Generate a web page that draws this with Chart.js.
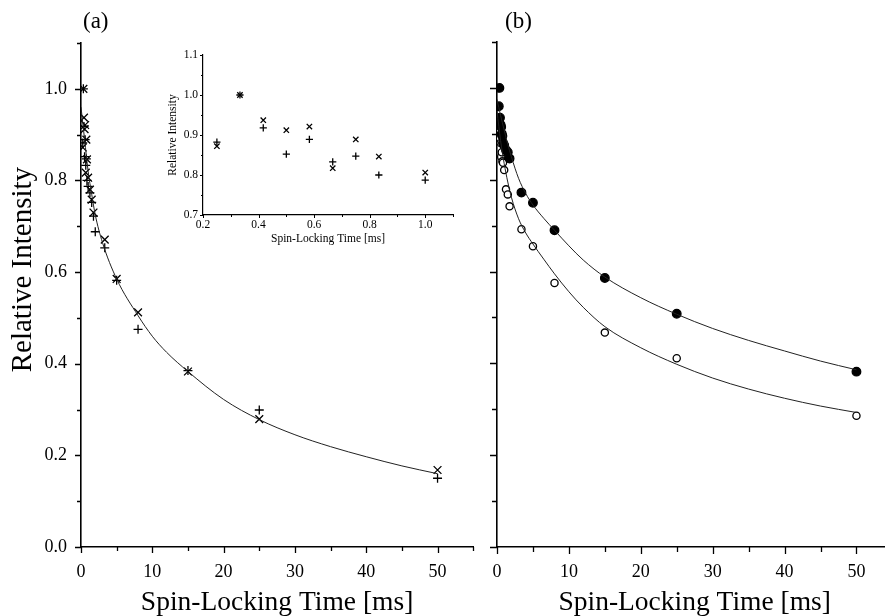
<!DOCTYPE html>
<html>
<head>
<meta charset="utf-8">
<script src="https://cdn.jsdelivr.net/npm/chart.js@4.4.1/dist/chart.umd.min.js"></script>
<style>
  html, body { margin: 0; padding: 0; background: #fff; overflow: hidden; }
  #wrap { position: relative; width: 885px; height: 616px; overflow: hidden; background: #fff; }
  canvas { position: absolute; }
  .panel { position: absolute; font-family: "Liberation Serif", serif; font-size: 23px; color: #000; }
</style>
</head>
<body>
<div id="wrap">
  <canvas id="chartA" width="480" height="616" style="left:0;top:0;"></canvas>
  <canvas id="chartB" width="428" height="616" style="left:470px;top:0;"></canvas>
  <canvas id="inset" width="310" height="206" style="left:150px;top:40px;"></canvas>
  <div class="panel" style="left:83px;top:8px;">(a)</div>
  <div class="panel" style="left:505px;top:8px;">(b)</div>
</div>
<script>
// panel (a): crosses (x) and pluses (+)
const timesX = [0.25, 0.333, 0.417, 0.5, 0.583, 0.667, 0.75, 0.833, 1.0, 1.25, 1.5, 1.75, 3.33, 5, 8, 15, 25, 50];
const valuesX = [0.872, 1.0, 0.937, 0.912, 0.921, 0.817, 0.889, 0.846, 0.806, 0.78, 0.758, 0.73, 0.671, 0.585, 0.512, 0.383, 0.279, 0.168];
const timesPlus = [0.25, 0.333, 0.417, 0.5, 0.583, 0.667, 0.75, 0.833, 1.0, 1.25, 1.5, 1.75, 2.0, 3.33, 5, 8, 15, 25, 50];
const valuesPlus = [0.882, 1.0, 0.918, 0.852, 0.889, 0.833, 0.847, 0.80, 0.787, 0.773, 0.752, 0.722, 0.688, 0.653, 0.582, 0.475, 0.385, 0.299, 0.150];
// fitted curve of panel (a)
const fitTimesA = [0, 0.5, 1, 1.5, 2, 3, 5, 8, 10, 12, 15, 20, 25, 30, 35, 40, 45, 50];
const fitValuesA = [0.96, 0.89, 0.82, 0.77, 0.725, 0.665, 0.585, 0.505, 0.46, 0.425, 0.383, 0.322, 0.278, 0.245, 0.219, 0.197, 0.177, 0.16];

// panel (b): filled and open circles
const timesB = [0.25, 0.333, 0.417, 0.5, 0.583, 0.667, 0.75, 0.833, 1.0, 1.25, 1.5, 1.75, 3.4, 5, 8, 15, 25, 50];
const valuesFilled = [0.96, 1.0, 0.935, 0.92, 0.915, 0.90, 0.895, 0.88, 0.875, 0.865, 0.86, 0.846, 0.772, 0.75, 0.69, 0.586, 0.508, 0.382];
const valuesOpen = [0.91, 0.925, 0.89, 0.88, 0.85, 0.86, 0.84, 0.837, 0.821, 0.779, 0.768, 0.742, 0.692, 0.655, 0.575, 0.467, 0.411, 0.286];
// fitted curves of panel (b)
const fitTimesB = [0, 0.5, 1, 1.5, 2, 3, 4, 5, 6.5, 8, 10, 12, 15, 20, 25, 30, 35, 40, 45, 50];
const fitFilled = [0.975, 0.94, 0.908, 0.877, 0.85, 0.803, 0.77, 0.745, 0.716, 0.69, 0.656, 0.625, 0.588, 0.543, 0.507, 0.476, 0.45, 0.427, 0.405, 0.386];
const fitOpen = [0.95, 0.885, 0.835, 0.795, 0.762, 0.715, 0.684, 0.66, 0.627, 0.595, 0.556, 0.522, 0.48, 0.434, 0.398, 0.368, 0.344, 0.324, 0.307, 0.293];

// tick values
const xMajor = [0, 10, 20, 30, 40, 50];
const xMinor = [5, 15, 25, 35, 45, 55];
const yMajor = [0, 0.2, 0.4, 0.6, 0.8, 1.0];
const yMinor = [0.1, 0.3, 0.5, 0.7, 0.9, 1.1];
const insetXMajor = [0.2, 0.4, 0.6, 0.8, 1.0];
const insetXMinor = [0.3, 0.5, 0.7, 0.9, 1.1];
const insetYMajor = [0.7, 0.8, 0.9, 1.0, 1.1];
const insetYMinor = [0.75, 0.85, 0.95, 1.05];

const serif = "'Liberation Serif', 'Times New Roman', serif";

function pts(xs, ys) {
  return xs.map((x, i) => ({ x: x, y: ys[i] }));
}

// draws outward tick marks (major and minor) with the chart's own scales
const tickMarks = {
  id: "tickMarks",
  afterDraw(chart, args, opts) {
    const ctx = chart.ctx;
    const xs = chart.scales.x, ys = chart.scales.y;
    const area = chart.chartArea;
    ctx.save();
    ctx.strokeStyle = "#000";
    ctx.lineWidth = opts.width || 1.3;
    ctx.beginPath();
    (opts.xMajor || []).forEach(v => { const p = Math.round(xs.getPixelForValue(v)) + 0.5; ctx.moveTo(p, area.bottom); ctx.lineTo(p, area.bottom + opts.major); });
    (opts.xMinor || []).forEach(v => { const p = Math.round(xs.getPixelForValue(v)) + 0.5; ctx.moveTo(p, area.bottom); ctx.lineTo(p, area.bottom + opts.minor); });
    (opts.yMajor || []).forEach(v => { const p = Math.round(ys.getPixelForValue(v)) + 0.5; ctx.moveTo(area.left, p); ctx.lineTo(area.left - opts.major, p); });
    (opts.yMinor || []).forEach(v => { const p = Math.round(ys.getPixelForValue(v)) + 0.5; ctx.moveTo(area.left, p); ctx.lineTo(area.left - opts.minor, p); });
    ctx.stroke();
    ctx.restore();
  }
};

function markers(label, data, style, radius, fill) {
  return {
    label: label,
    data: data,
    showLine: false,
    pointStyle: style,
    pointRadius: radius,
    pointHoverRadius: radius,
    pointBorderColor: "#000",
    pointBackgroundColor: fill,
    pointBorderWidth: 1.3
  };
}

function curve(label, data) {
  return {
    label: label,
    data: data,
    showLine: true,
    borderColor: "#222",
    borderWidth: 1,
    pointRadius: 0,
    cubicInterpolationMode: "monotone",
    fill: false
  };
}

function axes(cfg) {
  return {
    x: {
      type: "linear",
      min: cfg.xMin, max: cfg.xMax,
      afterFit: s => { s.height = cfg.xHeight; },
      border: { display: true, color: "#000", width: cfg.border },
      grid: { display: false, tickLength: cfg.tickLen },
      ticks: {
        display: cfg.xLabels,
        stepSize: cfg.xStep,
        includeBounds: false,
        padding: cfg.xPad,
        color: "#000",
        font: { family: serif, size: cfg.tickSize },
        maxRotation: 0,
        callback: v => cfg.xFmt(v)
      },
      title: {
        display: true,
        text: "Spin-Locking Time [ms]",
        color: "#000",
        font: { family: serif, size: cfg.titleSize },
        padding: { top: 0, bottom: cfg.xTitlePad }
      }
    },
    y: {
      type: "linear",
      min: cfg.yMin, max: cfg.yMax,
      afterFit: s => { s.width = cfg.yWidth; },
      border: { display: true, color: "#000", width: cfg.border },
      grid: { display: false, tickLength: cfg.tickLen },
      ticks: {
        display: cfg.yLabels,
        stepSize: cfg.yStep,
        includeBounds: false,
        padding: cfg.yPad,
        color: "#000",
        font: { family: serif, size: cfg.tickSize },
        callback: v => v.toFixed(1)
      },
      title: {
        display: cfg.yTitle,
        text: cfg.yTitleText,
        color: "#000",
        font: { family: serif, size: cfg.yTitleSize },
        padding: { top: cfg.yTitlePad, bottom: 0 }
      }
    }
  };
}

const common = {
  responsive: false,
  animation: false,
  events: [],
  plugins: { legend: { display: false }, tooltip: { enabled: false } }
};

new Chart(document.getElementById("chartA"), {
  type: "scatter",
  data: {
    datasets: [
      curve("fit", pts(fitTimesA, fitValuesA)),
      markers("x", pts(timesX, valuesX), "crossRot", 5.5, "#000"),
      markers("+", pts(timesPlus, valuesPlus), "cross", 4.5, "#000")
    ]
  },
  options: Object.assign({}, common, {
    layout: { padding: { left: 0, top: 43, right: 0, bottom: 0 } },
    scales: axes({
      xMin: 0, xMax: 55, xStep: 10, yMin: 0, yMax: 1.1, yStep: 0.2,
      xHeight: 69, yWidth: 81, border: 1.6, tickLen: 8,
      xLabels: true, yLabels: true, yTitle: true,
      yTitleText: "       Relative Intensity",
      tickSize: 18, titleSize: 27.5, yTitleSize: 29, xPad: 6, yPad: 6, xTitlePad: -3, yTitlePad: 6,
      xFmt: v => String(v)
    }),
    plugins: Object.assign({}, common.plugins, {
      tickMarks: { xMajor: xMajor, xMinor: xMinor, yMajor: yMajor, yMinor: yMinor, major: 6, minor: 4, width: 1.3 }
    })
  }),
  plugins: [tickMarks]
});

new Chart(document.getElementById("chartB"), {
  type: "scatter",
  data: {
    datasets: [
      curve("fit filled", pts(fitTimesB, fitFilled)),
      curve("fit open", pts(fitTimesB, fitOpen)),
      markers("filled", pts(timesB, valuesFilled), "circle", 4.3, "#000"),
      markers("open", pts(timesB, valuesOpen), "circle", 3.6, "#fff")
    ]
  },
  options: Object.assign({}, common, {
    layout: { padding: { left: 0, top: 42, right: 0, bottom: 0 } },
    scales: axes({
      xMin: 0, xMax: 55, xStep: 10, yMin: 0, yMax: 1.1, yStep: 0.2,
      xHeight: 69, yWidth: 27, border: 1.6, tickLen: 8,
      xLabels: true, yLabels: false, yTitle: false, yTitleText: "",
      tickSize: 18, titleSize: 27.5, yTitleSize: 27.5, xPad: 6, yPad: 5, xTitlePad: -3, yTitlePad: 0,
      xFmt: v => String(v)
    }),
    plugins: Object.assign({}, common.plugins, {
      tickMarks: { xMajor: xMajor, xMinor: xMinor, yMajor: yMajor, yMinor: yMinor, major: 7, minor: 5, width: 1.3 }
    })
  }),
  plugins: [tickMarks]
});

// inset of panel (a): first millisecond
new Chart(document.getElementById("inset"), {
  type: "scatter",
  data: {
    datasets: [
      markers("x", pts(timesX.slice(0, 9), valuesX.slice(0, 9)), "crossRot", 3.8, "#000"),
      markers("+", pts(timesPlus.slice(0, 9), valuesPlus.slice(0, 9)), "cross", 3.6, "#000")
    ]
  },
  options: Object.assign({}, common, {
    layout: { padding: { left: 0, top: 15, right: 7, bottom: 0 } },
    scales: axes({
      xMin: 0.2, xMax: 1.1, xStep: 0.2, yMin: 0.7, yMax: 1.1, yStep: 0.1,
      xHeight: 31, yWidth: 53, border: 1.2, tickLen: 3,
      xLabels: true, yLabels: true, yTitle: true, yTitleText: "Relative Intensity",
      tickSize: 11.5, titleSize: 11.5, yTitleSize: 11.5, xPad: 0, yPad: 2, xTitlePad: 0, yTitlePad: 16,
      xFmt: v => v.toFixed(1)
    }),
    plugins: Object.assign({}, common.plugins, {
      tickMarks: { xMajor: insetXMajor, xMinor: insetXMinor, yMajor: insetYMajor, yMinor: insetYMinor, major: 3, minor: 2, width: 1 }
    })
  }),
  plugins: [tickMarks]
});
</script>
</body>
</html>
